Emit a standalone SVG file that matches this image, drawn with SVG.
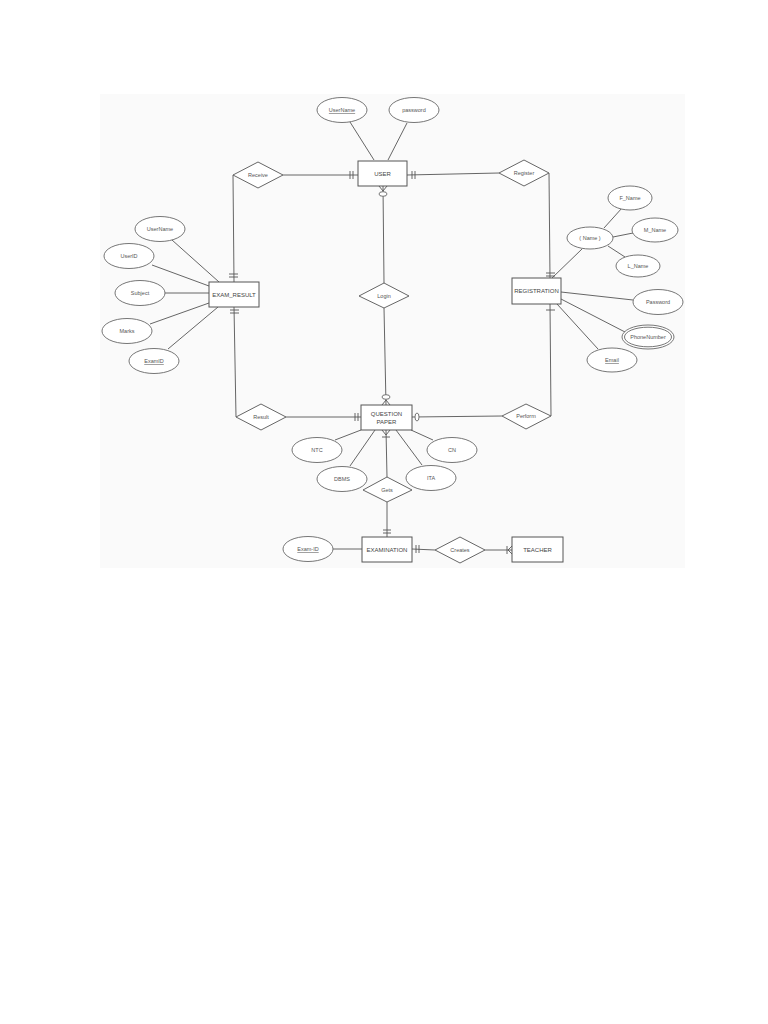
<svg xmlns="http://www.w3.org/2000/svg" width="768" height="1024" viewBox="0 0 768 1024">
<style>
.bg{fill:#fafafa}
.ent{fill:#ffffff;stroke:#555;stroke-width:1}
.att{fill:#ffffff;stroke:#666;stroke-width:0.9}
.rel{fill:#ffffff;stroke:#555;stroke-width:0.9}
.ln{stroke:#555;stroke-width:0.9;fill:none}
.t{font-family:"Liberation Sans",Arial,sans-serif;font-size:6px;fill:#444;text-anchor:middle;dominant-baseline:central}
.ts{font-family:"Liberation Sans",Arial,sans-serif;font-size:5.5px;fill:#555;text-anchor:middle;dominant-baseline:central}
.u{text-decoration:underline}
</style>
<rect width="768" height="1024" fill="#ffffff"/>
<rect class="bg" x="100" y="94" width="585" height="474"/>

<g id="connectors">
  <!-- USER attributes -->
  <line class="ln" x1="350" y1="122" x2="374" y2="160"/>
  <line class="ln" x1="407" y1="123" x2="388" y2="160"/>
  <!-- Receive -->
  <line class="ln" x1="283" y1="175" x2="358" y2="175"/>
  <line class="ln" x1="350" y1="171" x2="350" y2="179"/>
  <line class="ln" x1="353" y1="171" x2="353" y2="179"/>
  <polyline class="ln" points="233,175 234,282"/>
  <line class="ln" x1="229" y1="274" x2="238" y2="274"/>
  <line class="ln" x1="229" y1="277" x2="238" y2="277"/>
  <!-- Register -->
  <line class="ln" x1="407" y1="175" x2="499" y2="173"/>
  <line class="ln" x1="412" y1="171" x2="412" y2="179"/>
  <line class="ln" x1="415" y1="171" x2="415" y2="179"/>
  <line class="ln" x1="549" y1="173" x2="550" y2="278"/>
  <line class="ln" x1="546" y1="273" x2="555" y2="273"/>
  <line class="ln" x1="546" y1="276" x2="555" y2="276"/>
  <!-- Login -->
  <line class="ln" x1="383" y1="186" x2="384" y2="283"/>
  <line class="ln" x1="379" y1="186" x2="383" y2="191"/>
  <line class="ln" x1="387" y1="186" x2="383" y2="191"/>
  <ellipse class="att" cx="383" cy="194" rx="4" ry="2.3"/>
  <line class="ln" x1="384" y1="308" x2="386" y2="405"/>
  <line class="ln" x1="382" y1="405" x2="386" y2="400"/>
  <line class="ln" x1="390" y1="405" x2="386" y2="400"/>
  <ellipse class="att" cx="386" cy="397" rx="4" ry="2.3"/>
  <!-- Result -->
  <line class="ln" x1="234" y1="307" x2="236" y2="417"/>
  <line class="ln" x1="230" y1="310" x2="239" y2="310"/>
  <line class="ln" x1="230" y1="313" x2="239" y2="313"/>
  <line class="ln" x1="286" y1="417" x2="361" y2="417"/>
  <line class="ln" x1="355" y1="413" x2="355" y2="421"/>
  <line class="ln" x1="358" y1="413" x2="358" y2="421"/>
  <!-- Perform -->
  <line class="ln" x1="412" y1="417" x2="502" y2="416"/>
  <ellipse class="att" cx="417" cy="417" rx="2" ry="4"/>
  <line class="ln" x1="551" y1="416" x2="550" y2="304"/>
  <line class="ln" x1="546" y1="310" x2="555" y2="310"/>
  <!-- REGISTRATION attributes -->
  <line class="ln" x1="582" y1="249" x2="552" y2="278"/>
  <line class="ln" x1="604" y1="228" x2="622" y2="208"/>
  <line class="ln" x1="613" y1="237" x2="633" y2="233"/>
  <line class="ln" x1="608" y1="246" x2="625" y2="257"/>
  <line class="ln" x1="561" y1="292" x2="633" y2="300"/>
  <line class="ln" x1="561" y1="299" x2="625" y2="332"/>
  <line class="ln" x1="557" y1="304" x2="598" y2="349"/>
  <!-- EXAM_RESULT attributes -->
  <line class="ln" x1="172" y1="240" x2="219" y2="282"/>
  <line class="ln" x1="152" y1="265" x2="209" y2="286"/>
  <line class="ln" x1="164" y1="293" x2="209" y2="293"/>
  <line class="ln" x1="150" y1="324" x2="209" y2="303"/>
  <line class="ln" x1="168" y1="349" x2="218" y2="307"/>
  <!-- QUESTION PAPER attributes -->
  <line class="ln" x1="335" y1="440" x2="361" y2="430"/>
  <line class="ln" x1="433" y1="440" x2="411" y2="430"/>
  <line class="ln" x1="350" y1="466" x2="375" y2="430"/>
  <line class="ln" x1="422" y1="465" x2="396" y2="430"/>
  <!-- Gets -->
  <line class="ln" x1="386" y1="430" x2="387" y2="477"/>
  <line class="ln" x1="382" y1="430" x2="386" y2="435"/>
  <line class="ln" x1="390" y1="430" x2="386" y2="435"/>
  <line class="ln" x1="382" y1="437" x2="390" y2="437"/>
  <line class="ln" x1="387" y1="502" x2="387" y2="537"/>
  <line class="ln" x1="383" y1="530" x2="391" y2="530"/>
  <line class="ln" x1="383" y1="533" x2="391" y2="533"/>
  <!-- EXAMINATION / Creates / TEACHER -->
  <line class="ln" x1="333" y1="549" x2="362" y2="549"/>
  <line class="ln" x1="412" y1="549" x2="435" y2="550"/>
  <line class="ln" x1="416" y1="545" x2="416" y2="553"/>
  <line class="ln" x1="419" y1="545" x2="419" y2="553"/>
  <line class="ln" x1="485" y1="550" x2="512" y2="550"/>
  <line class="ln" x1="507" y1="546" x2="507" y2="554"/>
  <line class="ln" x1="512" y1="546" x2="508" y2="550"/>
  <line class="ln" x1="512" y1="554" x2="508" y2="550"/>
</g>

<g id="user"><rect class="ent" x="358" y="161" width="49" height="25"/><text class="t" x="382.5" y="173.5">USER</text></g>
<g id="attr-username"><ellipse class="att" cx="342" cy="110" rx="25" ry="12.5"/><text class="ts u" x="342" y="110">UserName</text></g>
<g id="attr-password"><ellipse class="att" cx="414" cy="110" rx="25" ry="12.5"/><text class="ts" x="414" y="110">password</text></g>

<g id="rel-receive"><polygon class="rel" points="233,175 258,162 283,175 258,188"/><text class="ts" x="258" y="175">Receive</text></g>
<g id="rel-register"><polygon class="rel" points="499,173 524,160 549,173 524,186"/><text class="ts" x="524" y="173">Register</text></g>
<g id="rel-login"><polygon class="rel" points="359,296 384,283 409,296 384,308"/><text class="ts" x="384" y="296">Login</text></g>

<g id="exam-result"><rect class="ent" x="209" y="282" width="50" height="25"/><text class="t" x="234" y="294.5">EXAM_RESULT</text></g>
<g id="er-username"><ellipse class="att" cx="160" cy="229" rx="25" ry="12.5"/><text class="ts" x="160" y="229">UserName</text></g>
<g id="er-userid"><ellipse class="att" cx="129" cy="256" rx="25" ry="12.5"/><text class="ts" x="129" y="256">UserID</text></g>
<g id="er-subject"><ellipse class="att" cx="140" cy="293" rx="25" ry="12.5"/><text class="ts" x="140" y="293">Subject</text></g>
<g id="er-marks"><ellipse class="att" cx="127" cy="331" rx="25" ry="12.5"/><text class="ts" x="127" y="331">Marks</text></g>
<g id="er-examid"><ellipse class="att" cx="154" cy="361" rx="25" ry="12.5"/><text class="ts u" x="154" y="361">ExamID</text></g>

<g id="registration"><rect class="ent" x="512" y="278" width="49" height="26"/><text class="t" x="536.5" y="291">REGISTRATION</text></g>
<g id="reg-name"><ellipse class="att" cx="590" cy="238" rx="23" ry="11"/><text class="ts" x="590" y="238">( Name )</text></g>
<g id="reg-fname"><ellipse class="att" cx="630" cy="198" rx="22" ry="12"/><text class="ts" x="630" y="198">F_Name</text></g>
<g id="reg-mname"><ellipse class="att" cx="655" cy="230" rx="23" ry="12"/><text class="ts" x="655" y="230">M_Name</text></g>
<g id="reg-lname"><ellipse class="att" cx="638" cy="266" rx="22" ry="11"/><text class="ts" x="638" y="266">L_Name</text></g>
<g id="reg-password"><ellipse class="att" cx="658" cy="302" rx="25" ry="12.5"/><text class="ts" x="658" y="302">Password</text></g>
<g id="reg-phone"><ellipse class="att" cx="648" cy="337" rx="26" ry="12"/><ellipse class="att" cx="648" cy="337" rx="23.5" ry="9.8"/><text class="ts" x="648" y="337">PhoneNumber</text></g>
<g id="reg-email"><ellipse class="att" cx="612" cy="360" rx="25" ry="12"/><text class="ts u" x="612" y="360">Email</text></g>

<g id="rel-result"><polygon class="rel" points="236,417 261,404 286,417 261,430"/><text class="ts" x="261" y="417">Result</text></g>
<g id="rel-perform"><polygon class="rel" points="502,416 526,404 551,416 526,429"/><text class="ts" x="526" y="416">Perform</text></g>

<g id="question-paper"><rect class="ent" x="361" y="405" width="51" height="25"/><text class="t" x="386.5" y="413.5">QUESTION</text><text class="t" x="386.5" y="422">PAPER</text></g>
<g id="qp-ntc"><ellipse class="att" cx="317" cy="450" rx="25" ry="12.5"/><text class="ts" x="317" y="450">NTC</text></g>
<g id="qp-cn"><ellipse class="att" cx="452" cy="450" rx="25" ry="12.5"/><text class="ts" x="452" y="450">CN</text></g>
<g id="qp-dbms"><ellipse class="att" cx="342" cy="479" rx="25" ry="12.5"/><text class="ts" x="342" y="479">DBMS</text></g>
<g id="qp-ita"><ellipse class="att" cx="431" cy="478" rx="25" ry="12.5"/><text class="ts" x="431" y="478">ITA</text></g>
<g id="rel-gets"><polygon class="rel" points="363,490 387,477 412,490 387,502"/><text class="ts" x="387" y="490">Gets</text></g>

<g id="examination"><rect class="ent" x="362" y="537" width="50" height="25"/><text class="t" x="387" y="549.5">EXAMINATION</text></g>
<g id="ex-examid"><ellipse class="att" cx="308" cy="549" rx="25" ry="12.5"/><text class="ts u" x="308" y="549">Exam-ID</text></g>
<g id="rel-creates"><polygon class="rel" points="435,550 460,537 485,550 460,563"/><text class="ts" x="460" y="550">Creates</text></g>
<g id="teacher"><rect class="ent" x="512" y="537" width="51" height="25"/><text class="t" x="537.5" y="549.5">TEACHER</text></g>
</svg>
